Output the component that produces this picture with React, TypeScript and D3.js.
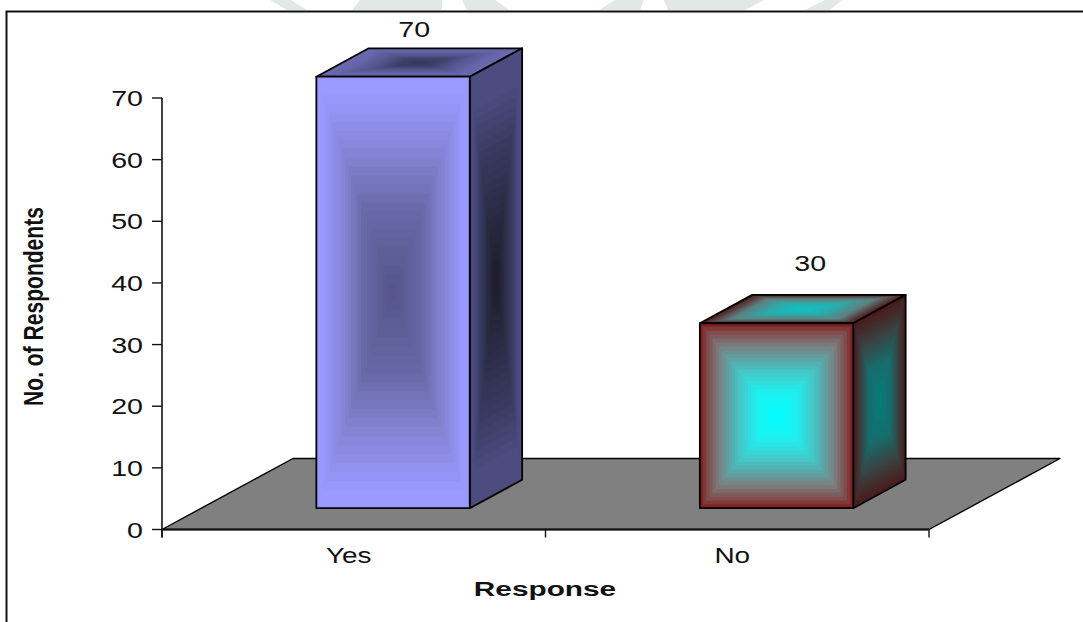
import React from "react";
import * as d3 from "d3";

const WIDTH = 1083;
const HEIGHT = 622;

const categories = ["Yes", "No"];
const respondents = [70, 30];

// Where each value label sits relative to the top edge of its bar.
const labelShift = [
  [-5, -11],
  [7.5, -24],
];

type Stop = [number, string];
type Pt = [number, number];

// Shading of each bar: colour stops from face centre (0) to rim (1).
const faceStops: { front: Stop[]; side: Stop[]; top: Stop[] }[] = [
  {
    front: [[0, "#55558c"], [0.2, "#5f5f9a"], [0.4, "#6a6aaa"], [0.6, "#8080cc"], [0.8, "#9090ee"], [0.92, "#9999ff"], [1, "#9999ff"]],
    side: [[0, "#1c1c2c"], [0.3, "#2a2a44"], [0.6, "#3a3a60"], [0.85, "#4c4c80"], [1, "#4c4c80"]],
    top: [[0, "#37375c"], [0.25, "#40406c"], [0.5, "#55558f"], [0.8, "#6666aa"], [1, "#6b6bb3"]],
  },
  {
    front: [[0, "#00ffff"], [0.25, "#1ff0f0"], [0.47, "#45c8c8"], [0.6, "#5aa8a8"], [0.75, "#7a8080"], [0.9, "#804a4a"], [1, "#7f1a1a"]],
    side: [[0, "#067c7c"], [0.4, "#186c6c"], [0.7, "#3a4242"], [1, "#4a1a1a"]],
    top: [[0, "#0cc4c4"], [0.4, "#30a8a8"], [0.7, "#5e8080"], [1, "#501a1a"]],
  },
];

// Pale background artwork showing above the chart frame.
const backdropShapes = [
  [[270, 0], [291, 0], [307, 10], [287, 10]],
  [[360, 0], [442, 0], [442, 10], [352, 10]],
  [[462, 0], [495, 0], [509, 10], [467, 10]],
  [[615, 0], [644, 0], [640, 10], [599, 10]],
  [[664, 0], [764, 0], [745, 10], [668, 10]],
  [[825, 0], [842, 0], [830, 10], [805, 10]],
];

const x = d3.scaleBand<string>().domain(categories).range([162, 929]).paddingInner(0).paddingOuter(0);
const y = d3.scaleLinear().domain([0, 70]).range([529.5, 98]);

// Floor receding direction and the share of it taken by the bars.
const floorDepth: Pt = [131, -71];
const barWidthRatio = 0.4;
const barNear = 0.3;
const barFar = 0.7;

const BANDS = 24;

function shadedFace(corners: Pt[], stops: Stop[], key: string) {
  const cx = d3.mean(corners, (p) => p[0]) as number;
  const cy = d3.mean(corners, (p) => p[1]) as number;
  const ramp = d3
    .scaleLinear<string>()
    .domain(stops.map((s) => s[0]))
    .range(stops.map((s) => s[1]))
    .interpolate(d3.interpolateRgb)
    .clamp(true);
  const line = d3.line();
  return (
    <g key={key}>
      {d3.range(BANDS, 0, -1).map((i) => {
        const t = i / BANDS;
        const pts = corners.map((p) => [cx + (p[0] - cx) * t, cy + (p[1] - cy) * t] as Pt);
        return <path key={i} d={line(pts) + "Z"} fill={ramp(t - 0.5 / BANDS)} />;
      })}
      <path d={line(corners) + "Z"} fill="none" stroke="#000" strokeWidth={1.8} strokeLinejoin="round" />
    </g>
  );
}

function Label(props: { x: number; y: number; sx: number; size: number; bold?: boolean; anchor?: string; children: React.ReactNode }) {
  return (
    <text
      transform={`translate(${props.x},${props.y}) scale(${props.sx},1)`}
      fontFamily="'Liberation Sans', Arial, sans-serif"
      fontSize={props.size}
      fontWeight={props.bold ? "bold" : "normal"}
      textAnchor={props.anchor ?? "middle"}
      fill="#111"
    >
      {props.children}
    </text>
  );
}

export default function App() {
  const [x0, x1] = x.range();
  const base = y(0);
  const floor: Pt[] = [
    [x0, base],
    [x1, base],
    [x1 + floorDepth[0], base + floorDepth[1]],
    [x0 + floorDepth[0], base + floorDepth[1]],
  ];
  const boundaries = [x0, ...categories.map((c) => (x(c) as number) + x.bandwidth())];

  return (
    <svg width={WIDTH} height={HEIGHT} style={{ position: "absolute", left: 0, top: 0, background: "#fff" }}>
      {backdropShapes.map((s, i) => (
        <path key={i} d={d3.line()(s as Pt[]) + "Z"} fill="#e2e7e7" />
      ))}

      {/* Chart frame, running off the right and bottom of the page */}
      <path d={`M6.5,${HEIGHT}V11.5H${WIDTH}`} fill="none" stroke="#111" strokeWidth={2} />

      {/* Floor */}
      <path d={d3.line()(floor) + "Z"} fill="#808080" stroke="#000" strokeWidth={1.4} strokeLinejoin="round" />

      {/* Value axis */}
      <line x1={x0} x2={x0} y1={y(70)} y2={base + 8} stroke="#111" strokeWidth={1.6} />
      {y.ticks(7).map((t) => (
        <g key={t}>
          <line x1={x0 - 10} x2={x0} y1={y(t)} y2={y(t)} stroke="#111" strokeWidth={1.4} />
          <Label x={143} y={y(t) + 8} sx={1.3} size={22} anchor="end">
            {t}
          </Label>
        </g>
      ))}

      {/* Category axis */}
      <line x1={x0} x2={x1} y1={base} y2={base} stroke="#111" strokeWidth={2} />
      {boundaries.map((b) => (
        <line key={b} x1={b} x2={b} y1={base} y2={base + 8} stroke="#111" strokeWidth={1.4} />
      ))}
      {categories.map((c) => (
        <Label key={c} x={(x(c) as number) + x.bandwidth() / 2 - 5} y={563} sx={1.27} size={22}>
          {c}
        </Label>
      ))}

      {/* Bars */}
      {categories.map((c, i) => {
        const w = x.bandwidth() * barWidthRatio;
        const left = (x(c) as number) + (x.bandwidth() - w) / 2 + floorDepth[0] * barNear;
        const right = left + w;
        const bottom = base + floorDepth[1] * barNear;
        const top = y(respondents[i]) + floorDepth[1] * barNear;
        const dx = floorDepth[0] * (barFar - barNear);
        const dy = floorDepth[1] * (barFar - barNear);
        const stops = faceStops[i];
        return (
          <g key={c}>
            {shadedFace([[left, top], [left + dx, top + dy], [right + dx, top + dy], [right, top]], stops.top, c + "-top")}
            {shadedFace([[right, top], [right + dx, top + dy], [right + dx, bottom + dy], [right, bottom]], stops.side, c + "-side")}
            {shadedFace([[left, top], [right, top], [right, bottom], [left, bottom]], stops.front, c + "-front")}
            <Label x={(left + right) / 2 + dx / 2 + labelShift[i][0]} y={top + dy + labelShift[i][1]} sx={1.3} size={22}>
              {respondents[i]}
            </Label>
          </g>
        );
      })}

      {/* Axis titles */}
      <Label x={545} y={596} sx={1.42} size={21} bold>
        Response
      </Label>
      <text
        transform="translate(43,306.5) rotate(-90) scale(0.78,1)"
        fontFamily="'Liberation Sans', Arial, sans-serif"
        fontSize={27}
        fontWeight="bold"
        textAnchor="middle"
        fill="#111"
      >
        No. of Respondents
      </text>
    </svg>
  );
}
